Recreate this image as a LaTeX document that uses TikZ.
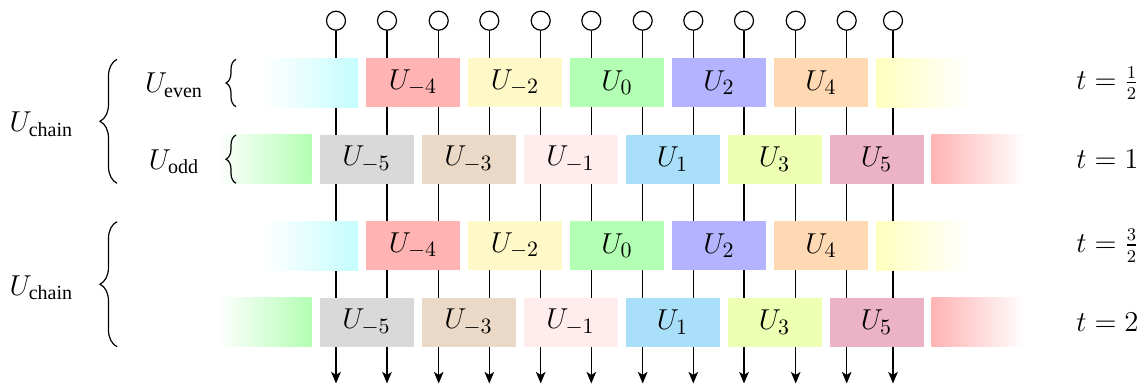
\documentclass[tikz,border=0pt]{standalone}
\usepackage{amsmath}
\usepackage{fontspec}
\newfontfamily\tnrfont{Liberation Serif}
\usetikzlibrary{decorations.pathreplacing,arrows.meta}
\definecolor{cCyan}{RGB}{196,253,253}
\definecolor{cRed}{RGB}{255,179,179}
\definecolor{cYel}{RGB}{255,249,200}
\definecolor{cYelF}{RGB}{255,255,190}
\definecolor{cGreen}{RGB}{179,255,179}
\definecolor{cBlue}{RGB}{179,179,255}
\definecolor{cOrange}{RGB}{255,217,179}
\definecolor{cGray}{RGB}{217,217,217}
\definecolor{cBrown}{RGB}{234,217,198}
\definecolor{cPink}{RGB}{255,236,236}
\definecolor{cSky}{RGB}{170,223,250}
\definecolor{cLime}{RGB}{236,255,179}
\definecolor{cPurple}{RGB}{236,179,198}
\newcommand\gatefont{\fontsize{15.5}{18}\selectfont}
\newcommand\sidefont{\fontsize{14.4}{17}\selectfont}
\newcommand\timefont{\fontsize{13.4}{16}\selectfont}
\newcommand\sub[1]{\text{\tnrfont #1}}
\begin{document}
\begin{tikzpicture}[x=0.5pt,y=-0.5pt,
  wire/.style={line width=0.65pt,-{Stealth[length=5.8pt,width=4.8pt,inset=1.5pt]}},
  knob/.style={circle,draw,line width=0.6pt,fill=white,minimum size=9.5pt,inner sep=0pt},
  gate/.style={rectangle,inner sep=0pt,minimum width=47pt,minimum height=24.5pt,font=\gatefont},
  side/.style={font=\sidefont,inner sep=0pt},
  timelab/.style={font=\timefont,inner sep=0pt,anchor=base east},
  bigbrace/.style={decorate,decoration={brace,amplitude=8.5pt},line width=0.6pt},
  smallbrace/.style={decorate,decoration={brace,amplitude=5pt},line width=0.6pt}]
\useasboundingbox (0,0) rectangle (1144,385);
% wires
\foreach \x [count=\i] in {336,387,438.7,489.3,540.7,591.3,642.7,693.3,744,795.7,846.7,893}{
  \node[knob] (c\i) at (\x,20.7) {};
  \coordinate (e\i) at (\x,383.5);
  \draw[wire] (c\i.south) -- (e\i);
}
% gate rows
\foreach \yy/\tag in {82.8/a,245.5/c}{
  \node[gate,left color=white,right color=cCyan] (\tag0) at (311,\yy) {};
  \node[gate,fill=cRed]    (\tag1) at (413,\yy) {$U_{-4}$};
  \node[gate,fill=cYel]    (\tag2) at (515,\yy) {$U_{-2}$};
  \node[gate,fill=cGreen]  (\tag3) at (617,\yy) {$U_{0}$};
  \node[gate,fill=cBlue]   (\tag4) at (719,\yy) {$U_{2}$};
  \node[gate,fill=cOrange] (\tag5) at (821,\yy) {$U_{4}$};
  \node[gate,left color=cYelF,right color=white] (\tag6) at (923,\yy) {};
}
\foreach \yy/\tag in {159.2/b,322.2/d}{
  \node[gate,left color=white,right color=cGreen] (\tag0) at (264.5,\yy) {};
  \node[gate,fill=cGray]   (\tag1) at (366.5,\yy) {$U_{-5}$};
  \node[gate,fill=cBrown]  (\tag2) at (468.5,\yy) {$U_{-3}$};
  \node[gate,fill=cPink]   (\tag3) at (570.5,\yy) {$U_{-1}$};
  \node[gate,fill=cSky]    (\tag4) at (672.5,\yy) {$U_{1}$};
  \node[gate,fill=cLime]   (\tag5) at (774.5,\yy) {$U_{3}$};
  \node[gate,fill=cPurple] (\tag6) at (876.5,\yy) {$U_{5}$};
  \node[gate,left color=cRed,right color=white] (\tag7) at (978.5,\yy) {};
}
% time labels
\node[timelab] (t1) at (1139,89.5) {$t=\frac{1}{2}$};
\node[timelab] (t2) at (1139,168.5) {$t=1$};
\node[timelab] (t3) at (1139,252.2) {$t=\frac{3}{2}$};
\node[timelab] (t4) at (1139,331.5) {$t=2$};
% left labels
\node[side,anchor=base] (ch1) at (41.4,131.7) {$U_{\sub{chain}}$};
\node[side,anchor=base] (ch2) at (41.4,295) {$U_{\sub{chain}}$};
\node[side,anchor=base] (ev) at (174,92.7) {$U_{\sub{even}}$};
\node[side,anchor=base] (od) at (174,169) {$U_{\sub{odd}}$};
% braces
\coordinate (B1b) at (117,183.3); \coordinate (B1t) at (117,59.3);
\coordinate (B2b) at (117,346.7); \coordinate (B2t) at (117,221.7);
\coordinate (S1b) at (236,106.7); \coordinate (S1t) at (236,59.3);
\coordinate (S2b) at (236,183.3); \coordinate (S2t) at (236,135);
\draw[bigbrace] (B1b) -- (B1t);
\draw[bigbrace] (B2b) -- (B2t);
\draw[smallbrace] (S1b) -- (S1t);
\draw[smallbrace] (S2b) -- (S2t);
\end{tikzpicture}
\end{document}
